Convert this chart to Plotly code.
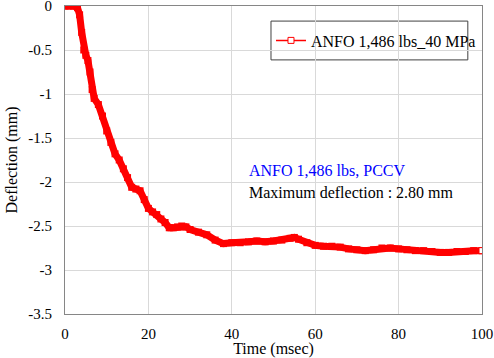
import plotly.graph_objects as go

time_ms = [0, 1, 2, 3, 3.5, 4, 4.5, 5, 5.5, 6, 6.5, 7, 8, 9, 10, 11, 12, 13, 14, 15, 16, 17, 18, 19, 20,
           21, 22, 23, 24, 25, 26, 27, 28, 29, 30, 32, 34, 36, 38, 40, 42, 44, 46, 48, 50, 52, 54, 55,
           56, 58, 60, 62, 64, 66, 68, 70, 72, 74, 76, 78, 80, 82, 84, 86, 88, 90, 92, 94, 96, 98, 100]
deflection = [0, 0, 0, -0.02, -0.1, -0.3, -0.5, -0.56, -0.62, -0.75, -0.95, -1.05, -1.12, -1.25, -1.42,
              -1.55, -1.68, -1.75, -1.85, -1.95, -2.06, -2.08, -2.1, -2.2, -2.3, -2.34, -2.37, -2.42,
              -2.46, -2.52, -2.52, -2.51, -2.5, -2.51, -2.54, -2.57, -2.6, -2.66, -2.70, -2.69, -2.69,
              -2.68, -2.67, -2.68, -2.67, -2.66, -2.64, -2.63, -2.65, -2.69, -2.72, -2.73, -2.73, -2.74,
              -2.76, -2.77, -2.78, -2.77, -2.75, -2.75, -2.76, -2.77, -2.78, -2.78, -2.79, -2.80, -2.80,
              -2.79, -2.79, -2.78, -2.78]
series_name = "ANFO 1,486 lbs_40 MPa"
y_ticks = [0, -0.5, -1, -1.5, -2, -2.5, -3, -3.5]
y_tick_labels = ["0", "-0.5", "-1", "-1.5", "-2", "-2.5", "-3", "-3.5"]
x_ticks = [0, 20, 40, 60, 80, 100]

FONT = "Liberation Serif"
RED = "#ff0000"

fig = go.Figure()
fig.add_trace(go.Scatter(x=time_ms, y=deflection, mode="lines+markers",
                         line=dict(color=RED, width=7),
                         marker=dict(symbol="square", size=7, color=RED),
                         showlegend=False, hoverinfo="skip"))
fig.add_trace(go.Scatter(x=[time_ms[-1]], y=[deflection[-1]], mode="markers",
                         marker=dict(symbol="square", size=6, color="white",
                                     line=dict(color=RED, width=1)),
                         showlegend=False))
fig.add_trace(go.Scatter(x=[None], y=[None], mode="lines+markers", name=series_name,
                         line=dict(color=RED, width=1.5),
                         marker=dict(symbol="square", size=6, color="white",
                                     line=dict(color=RED, width=1))))

fig.update_layout(
    width=494, height=358,
    margin=dict(l=65, r=12, t=6, b=44),
    paper_bgcolor="white", plot_bgcolor="white",
    font=dict(family=FONT, size=15, color="black"),
    xaxis=dict(range=[0, 100], tickvals=x_ticks, showgrid=True, gridcolor="#d9d9d9",
               showline=True, linecolor="#868686", mirror=True, zeroline=False,
               ticks="", ticklabelstandoff=6, automargin=False,
               title=dict(text="Time (msec)", standoff=6, font=dict(size=16)),
               tickfont=dict(size=15)),
    yaxis=dict(range=[-3.5, 0], tickvals=y_ticks, ticktext=y_tick_labels,
               showgrid=True, gridcolor="#d9d9d9",
               showline=True, linecolor="#868686", mirror=True, zeroline=False,
               ticks="", ticklabelstandoff=9, ticklabeloverflow="allow", automargin=False,
               title=dict(text="Deflection (mm)", standoff=6, font=dict(size=16)),
               tickfont=dict(size=15)),
    legend=dict(x=0.494, y=0.888, xanchor="left", yanchor="middle",
                borderwidth=0, bgcolor="rgba(0,0,0,0)",
                font=dict(family=FONT, size=16)),
    shapes=[dict(type="rect", xref="paper", yref="paper", x0=0.494, x1=0.966,
                 y0=0.825, y1=0.951, line=dict(color="#404040", width=1),
                 fillcolor="white", layer="below")],
    annotations=[
        dict(x=43.6, y=-1.87, xref="x", yref="y", xanchor="left", yanchor="middle",
             text="ANFO 1,486 lbs, PCCV", showarrow=False,
             font=dict(family=FONT, size=16, color="#0000ff")),
        dict(x=43.6, y=-2.12, xref="x", yref="y", xanchor="left", yanchor="middle",
             text="Maximum deflection : 2.80 mm", showarrow=False,
             font=dict(family=FONT, size=16, color="black")),
    ],
)

fig.write_html("out.html")
